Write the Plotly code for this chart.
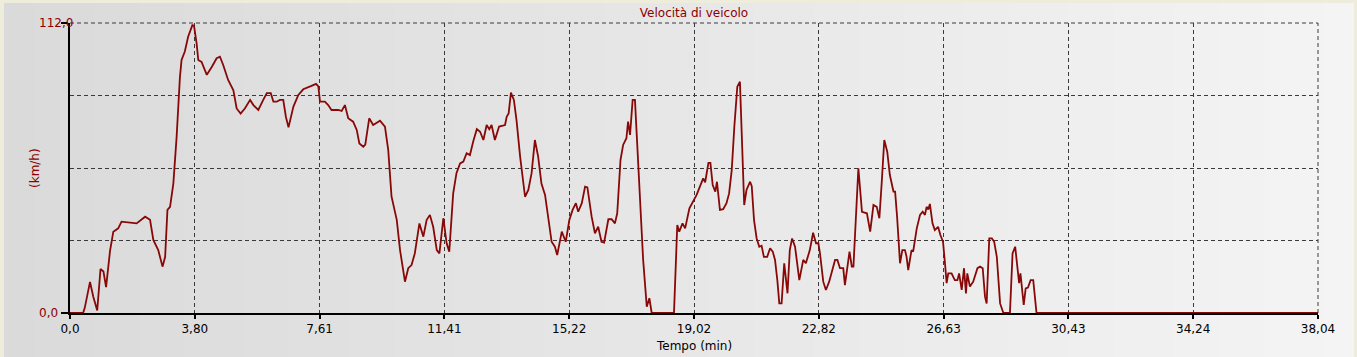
import plotly.graph_objects as go

# ---- data ----
time_min = [
    0.0, 0.4, 0.45, 0.61, 0.71, 0.83, 0.93, 1.02, 1.1, 1.22, 1.32, 1.47, 1.57, 1.73, 2.03,
    2.29, 2.44, 2.54, 2.69, 2.82, 2.9, 2.97, 3.05, 3.15, 3.25, 3.35, 3.4, 3.5, 3.6, 3.73,
    3.78, 3.86, 3.91, 4.01, 4.17, 4.32, 4.47, 4.57, 4.67, 4.82, 4.98, 5.08, 5.2, 5.33, 5.49,
    5.59, 5.74, 5.89, 6.0, 6.12, 6.2, 6.3, 6.4, 6.5, 6.58, 6.66, 6.81, 6.96, 7.11, 7.36,
    7.5, 7.57, 7.62, 7.77, 7.87, 7.97, 8.18, 8.28, 8.38, 8.48, 8.63, 8.74, 8.82, 8.94, 9.0,
    9.12, 9.24, 9.45, 9.6, 9.7, 9.8, 9.96, 10.06, 10.21, 10.31, 10.41, 10.51, 10.65, 10.77,
    10.87, 10.97, 11.07, 11.18, 11.26, 11.38, 11.48, 11.56, 11.68, 11.78, 11.89, 11.99,
    12.09, 12.19, 12.29, 12.4, 12.5, 12.6, 12.7, 12.78, 12.85, 12.95, 13.08, 13.26, 13.31,
    13.37, 13.44, 13.53, 13.61, 13.72, 13.87, 13.97, 14.07, 14.17, 14.27, 14.37, 14.48,
    14.68, 14.78, 14.85, 14.99, 15.11, 15.22, 15.32, 15.42, 15.49, 15.6, 15.7, 15.77, 15.9,
    16.0, 16.1, 16.2, 16.28, 16.41, 16.51, 16.61, 16.68, 16.78, 16.86, 16.96, 17.01, 17.07,
    17.15, 17.22, 17.32, 17.47, 17.58, 17.66, 17.73, 18.41, 18.51, 18.57, 18.67, 18.75,
    18.88, 19.0, 19.1, 19.3, 19.36, 19.46, 19.52, 19.59, 19.67, 19.72, 19.81, 19.91, 20.01,
    20.09, 20.17, 20.25, 20.34, 20.42, 20.49, 20.55, 20.62, 20.73, 20.78, 20.85, 20.93,
    21.01, 21.08, 21.15, 21.25, 21.34, 21.42, 21.49, 21.56, 21.62, 21.69, 21.77, 21.87,
    21.94, 22.01, 22.1, 22.23, 22.35, 22.43, 22.55, 22.65, 22.74, 22.81, 22.86, 22.96,
    23.04, 23.14, 23.32, 23.39, 23.47, 23.57, 23.62, 23.76, 23.83, 23.88, 24.03, 24.14,
    24.29, 24.39, 24.49, 24.59, 24.67, 24.74, 24.82, 24.91, 24.99, 25.1, 25.15, 25.21,
    25.3, 25.37, 25.45, 25.5, 25.55, 25.65, 25.7, 25.81, 25.91, 25.99, 26.06, 26.11, 26.16,
    26.21, 26.29, 26.36, 26.46, 26.53, 26.61, 26.67, 26.72, 26.77, 26.87, 26.97, 27.05,
    27.1, 27.18, 27.25, 27.31, 27.35, 27.43, 27.53, 27.66, 27.74, 27.82, 27.89, 27.94,
    28.02, 28.1, 28.17, 28.25, 28.35, 28.45, 28.65, 28.73, 28.81, 28.87, 28.93, 28.97,
    29.03, 29.07, 29.13, 29.2, 29.28, 29.36, 29.46, 38.04,
]
speed_kmh = [
    0, 0, 2, 12, 6.3, 1, 17, 16, 10, 24, 31.4, 32.7, 35.3, 35, 34.6,
    37.2, 36, 28.2, 24.3, 17.9, 21.7, 39.8, 41, 50, 68, 91, 97.7, 101, 106.7, 111.2,
    111, 104, 97.7, 97, 92, 95, 98.4, 99, 95.8, 90, 86, 79, 77, 79, 82.3,
    80.3, 78.4, 82.3, 84.9, 84.9, 81.6, 81.6, 82.3, 82.3, 75.8, 71.7, 79.7, 84.2, 86.4, 87.7,
    88.5, 87.5, 81.6, 81.6, 80.3, 78.4, 78.4, 78.0, 80.3, 75.2, 73.9, 70.7, 65.5, 64.2, 65,
    75.2, 72.6, 74.3, 72, 63, 45, 36, 24.3, 12.1, 17.3, 18.5, 23, 34.6, 29.5,
    35.9, 37.9, 33.3, 24.3, 23, 36.6, 26.9, 23.7, 46.2, 54, 57.8, 58.5,
    61.7, 61, 66.2, 71, 70, 66.8, 72.6, 71, 72.6, 66.8, 72, 72.6, 75.8,
    77.1, 85.1, 82.3, 74.5, 60.4, 44.9, 47.5, 54, 66.8, 60.4, 50, 45.6,
    27.5, 25.6, 22.4, 31.4, 27.5, 35.9, 39.8, 42.4, 39.1, 42.4, 48.8, 48.5, 37.2,
    30.8, 33.3, 27.5, 27.2, 36.2, 36.2, 34.6, 38.5, 59.1, 64.9, 67.5, 73.9, 68.8,
    82.3, 82.3, 59.1, 20.5, 2.4, 5.7, 0, 0, 34, 31.4, 34.6, 32.7,
    40.4, 43, 45.6, 52, 50.5, 58, 58, 49.4, 46.9, 50.7, 39.8, 40.1, 42.4,
    46.2, 55.2, 72, 87.4, 89.3, 59.1, 41.7, 47.5, 50.7, 49, 35.9, 28.8,
    25.6, 26, 21.7, 21.7, 25, 23.7, 20.5, 12.7, 3.7, 3.7, 19.2, 7.6,
    24.3, 28.8, 25.6, 12.7, 20.5, 19.2, 24.3, 31, 26.9, 27, 23, 12.1,
    8.9, 12.1, 20.5, 20.5, 17.3, 17.3, 10.8, 23.7, 17.9, 17.9, 55.9, 39.1,
    38.5, 31.4, 41.7, 41, 36.6, 50, 66.8, 62.3, 53.3, 46.9, 46.9, 37.2,
    19.2, 24.3, 24.3, 21.7, 16.6, 24.3, 23.7, 32.7, 37.9, 39.1, 37.9, 41, 40,
    42.1, 34.6, 32, 33.3, 30.1, 27.5, 19.2, 11.5, 15.3, 15.3, 12.7, 12.7,
    15.3, 8.9, 17.3, 7.6, 15.3, 10.2, 12.1, 17.3, 17.9, 17.3, 6.3, 3.7,
    28.8, 28.8, 27.5, 21.7, 3.7, 0, 0, 23, 25.6, 19.2, 11.5, 15.3,
    7.6, 3.1, 9.5, 9.8, 12.7, 12.7, 0, 0,
]

x_tick_vals = [0, 3.804, 7.608, 11.412, 15.216, 19.02, 22.824, 26.628, 30.432, 34.236, 38.04]
x_tick_text = ["0,0", "3,80", "7,61", "11,41", "15,22", "19,02", "22,82", "26,63", "30,43", "34,24", "38,04"]
y_label_vals = [0, 112]
y_label_text = ["0,0", "112,0"]
y_grid_vals = [28, 56, 84]

# ---- layout geometry / style ----
W, H = 1357, 357
ML, MR, MT, MB = 70, 39, 23, 44
PW = W - ML - MR
PH = H - MT - MB
FONT = "DejaVu Sans"
DARKRED = "#8b0000"
GRID = "#3a3a3a"
DASH = "4px,3px"


def px_x(px):
    return (px - ML) / PW


def px_y(py):
    return (H - MB - py) / PH


fig = go.Figure()
fig.add_trace(go.Scatter(
    x=time_min, y=speed_kmh, mode="lines",
    line=dict(color="#880808", width=1.8),
    cliponaxis=False, hoverinfo="skip", showlegend=False,
))

# background panel: horizontal grey gradient built from thin strips
shapes = []
n_strips = 90
x0p, x1p = 4, 1354
c0, c1 = 218, 244
for i in range(n_strips):
    a = x0p + (x1p - x0p) * i / n_strips
    b = x0p + (x1p - x0p) * (i + 1) / n_strips + 0.6
    c = round(c0 + (c1 - c0) * i / (n_strips - 1))
    shapes.append(dict(
        type="rect", xref="paper", yref="paper", layer="below",
        x0=px_x(a), x1=px_x(min(b, x1p)), y0=px_y(H + 5), y1=px_y(3),
        fillcolor=f"rgb({c},{c},{c})", line=dict(width=0),
    ))
# dashed grid lines on the top and right edges of the plot area
shapes.append(dict(type="line", xref="paper", yref="paper", layer="below",
                   x0=0, x1=1, y0=1, y1=1, line=dict(color=GRID, width=1, dash=DASH)))
shapes.append(dict(type="line", xref="paper", yref="paper", layer="below",
                   x0=1, x1=1, y0=0, y1=1, line=dict(color=GRID, width=1, dash=DASH)))

annotations = []
for v, t in zip(y_label_vals, y_label_text):
    annotations.append(dict(
        x=px_x(37), xref="paper", y=v, yref="y", text=t, showarrow=False,
        xanchor="left", yanchor="middle", font=dict(family=FONT, size=12, color=DARKRED),
    ))
annotations.append(dict(
    x=px_x(35), xref="paper", y=0.5, yref="paper", text="(km/h)", textangle=-90,
    showarrow=False, xanchor="center", yanchor="middle",
    font=dict(family=FONT, size=12, color=DARKRED),
))
annotations.append(dict(
    x=0.5, xref="paper", y=px_y(346), yref="paper", text="Tempo (min)",
    showarrow=False, xanchor="center", yanchor="middle",
    font=dict(family=FONT, size=12, color="black"),
))

fig.update_layout(
    width=W, height=H,
    margin=dict(l=ML, r=MR, t=MT, b=MB, pad=0),
    paper_bgcolor="#eeeddc",
    plot_bgcolor="rgba(0,0,0,0)",
    font=dict(family=FONT, size=12, color="black"),
    title=dict(text="Velocità di veicolo", x=0.5, xref="paper", xanchor="center",
               y=1 - 12.5 / H, yref="container", yanchor="middle",
               font=dict(family=FONT, size=12, color=DARKRED)),
    shapes=shapes,
    annotations=annotations,
    showlegend=False,
    hovermode=False,
)
fig.update_xaxes(
    range=[0, 38.04], tickmode="array", tickvals=x_tick_vals, ticktext=x_tick_text,
    showgrid=True, gridcolor=GRID, gridwidth=1, griddash=DASH,
    showline=True, linecolor="black", linewidth=2,
    ticks="outside", ticklen=4, tickwidth=2, tickcolor="black",
    tickfont=dict(family=FONT, size=12, color="black"),
    zeroline=False, layer="below traces", fixedrange=True,
)
fig.update_yaxes(
    range=[0, 112], tickmode="array", tickvals=y_label_vals, showticklabels=False,
    showgrid=True, gridcolor=GRID, gridwidth=1, griddash=DASH,
    minor=dict(tickmode="array", tickvals=y_grid_vals, showgrid=True, gridcolor=GRID,
               gridwidth=1, griddash=DASH, ticks=""),
    showline=True, linecolor="black", linewidth=2,
    ticks="outside", ticklen=7, tickwidth=2, tickcolor="black",
    zeroline=False, layer="below traces", fixedrange=True,
)

fig.write_html("out.html")
